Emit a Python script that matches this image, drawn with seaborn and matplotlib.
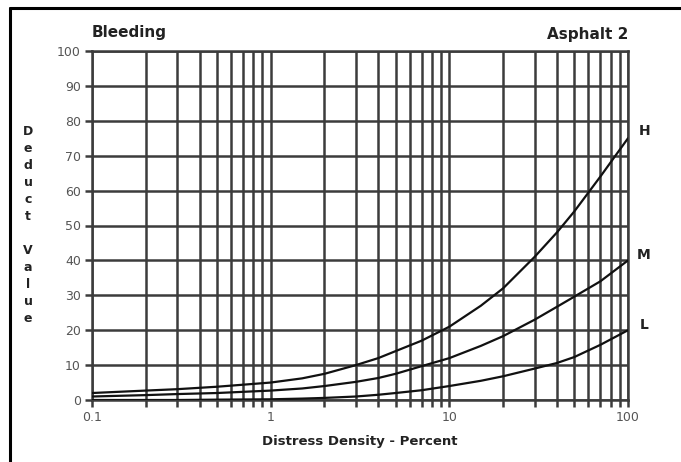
import numpy as np
import matplotlib
matplotlib.use("Agg")
import matplotlib.pyplot as plt
import matplotlib.ticker as mticker
import pandas as pd
import seaborn as sb

# values
density = [0.1, 0.2, 0.3, 0.5, 1, 1.5, 2, 3, 4, 5, 7, 10, 15, 20, 30, 40, 50, 70, 100]
deduct_H = [2, 2.7, 3.1, 3.8, 5, 6.2, 7.5, 10, 12, 14, 17, 21, 27, 32, 41, 48, 54, 64, 75]
deduct_M = [1, 1.4, 1.7, 2, 2.7, 3.3, 4, 5.2, 6.3, 7.5, 9.7, 12, 15.5, 18.3, 23, 26.7, 29.6, 34, 40]
deduct_L = [0, 0, 0, 0.1, 0.2, 0.4, 0.6, 1, 1.5, 2, 2.8, 4, 5.5, 6.8, 9, 10.6, 12.3, 15.8, 20]
levels = ['H', 'M', 'L']
label_y = [77, 41.5, 21.5]

df = pd.concat([
    pd.DataFrame({'density': density, 'deduct': d, 'level': lv})
    for lv, d in zip(levels, [deduct_H, deduct_M, deduct_L])
])

sb.set_style('white')
plt.rcParams['font.family'] = ['DejaVu Sans']

fig = plt.figure(figsize=(6.81, 4.62), dpi=100)
ax = fig.add_axes([92 / 681, 1 - 400 / 462, 536 / 681, 349 / 462])

gc = '#3c3c3c'
sb.lineplot(data=df, x='density', y='deduct', units='level', estimator=None,
            color='#111111', linewidth=1.6, ax=ax, legend=False, zorder=5)

ax.set_xscale('log')
ax.set_xlim(0.1, 100)
ax.set_ylim(0, 100)
ax.set_yticks(range(0, 101, 10))
ax.xaxis.set_major_locator(mticker.FixedLocator([0.1, 1, 10, 100]))
ax.xaxis.set_major_formatter(mticker.FixedFormatter(['0.1', '1', '10', '100']))
ax.xaxis.set_minor_locator(mticker.LogLocator(base=10, subs=range(2, 10)))
ax.xaxis.set_minor_formatter(mticker.NullFormatter())

ax.grid(True, which='both', axis='x', color=gc, linewidth=1.8)
ax.grid(True, which='major', axis='y', color=gc, linewidth=1.8)
for s in ax.spines.values():
    s.set_color(gc)
    s.set_linewidth(1.8)
ax.tick_params(axis='both', which='both', direction='out', length=5, width=1.8,
               color=gc, labelsize=9, labelcolor='#555555', pad=3)
ax.tick_params(axis='x', which='both', bottom=True)
ax.tick_params(axis='y', left=True)
ax.set_xlabel('')
ax.set_ylabel('')

for lv, yv in zip(levels, label_y):
    ax.text(1.03, yv / 100, lv, transform=ax.transAxes, fontsize=10,
            fontweight='bold', color='#222222', va='center', ha='center')

fig.text(92 / 681, 1 - 32 / 462, 'Bleeding', fontsize=11, fontweight='bold',
         color='#222222', ha='left', va='center')
fig.text(628 / 681, 1 - 35 / 462, 'Asphalt 2', fontsize=11, fontweight='bold',
         color='#222222', ha='right', va='center')
fig.text(360 / 681, 1 - 441 / 462, 'Distress Density - Percent', fontsize=9.5,
         fontweight='bold', color='#222222', ha='center', va='center')
fig.text(28 / 681, 1 - 225 / 462, '\n'.join('Deduct Value'), fontsize=9,
         fontweight='bold', color='#222222', ha='center', va='center',
         linespacing=1.4)

# outer frame
fig.add_artist(plt.Line2D([10 / 681, 1], [1 - 8 / 462] * 2, color='black', lw=2.2))
fig.add_artist(plt.Line2D([10 / 681] * 2, [0, 1 - 8 / 462], color='black', lw=2.2))

fig.savefig('out.png', dpi=100)
